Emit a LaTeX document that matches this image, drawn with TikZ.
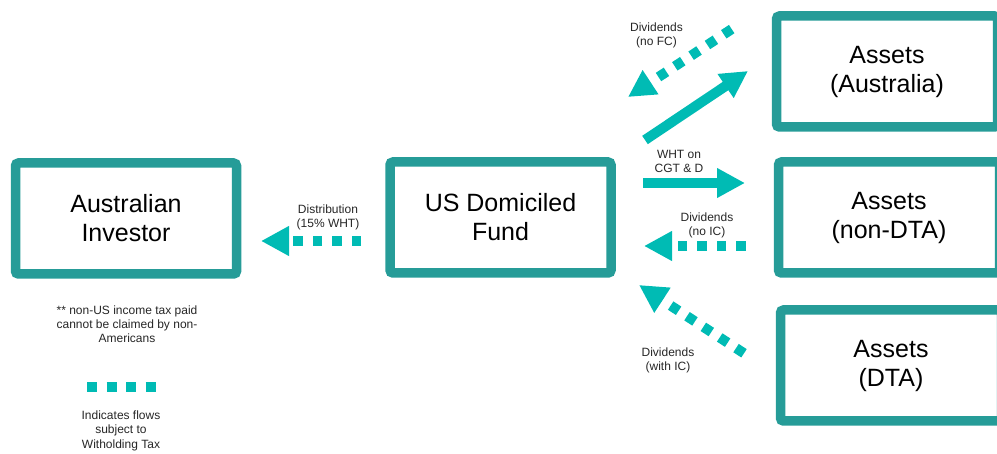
\documentclass[tikz,border=0pt]{standalone}
\usepackage{fontspec}
\setmainfont{Liberation Sans}
\usetikzlibrary{arrows.meta}

\definecolor{boxteal}{RGB}{38,156,152}
\definecolor{flowteal}{RGB}{0,187,180}

\tikzset{
  entity/.style={draw=boxteal, line width=9.5pt, rounded corners=3pt, fill=white,
    minimum width=221pt, minimum height=111pt, align=center,
    font=\fontsize{25}{29}\selectfont, text=black},
  flowlabel/.style={align=center, font=\fontsize{12}{14.5}\selectfont, text=black!85},
  flow/.style={draw=flowteal, line width=10pt,
    -{Triangle[length=28pt,width=28pt]}},
  whtflow/.style={flow, dash pattern=on 9.5pt off 10pt},
}

\begin{document}
\begin{tikzpicture}[x=1pt,y=-1pt]
  \useasboundingbox (0,0) rectangle (997,454);

  % entities
  \node[entity] (investor) at (126,218.5) {Australian\\Investor};
  \node[entity] (fund) at (500.5,217.5) {US Domiciled\\Fund};
  \node[entity] (aus) at (887,71.5) {Assets\\(Australia)};
  \node[entity] (nondta) at (889,217.5) {Assets\\(non-DTA)};
  \node[entity] (dta) at (891,365.5) {Assets\\(DTA)};

  % end points of the flows
  \coordinate (distS) at (361,241);
  \coordinate (distT) at (261,241);
  \coordinate (whtS) at (643,183);
  \coordinate (whtT) at (745,183);
  \coordinate (noicS) at (745.5,246);
  \coordinate (noicT) at (644,246);
  \coordinate (ausS) at (645,140);
  \coordinate (ausT) at (748,71);
  \coordinate (nofcS) at (731.7,29.1);
  \coordinate (nofcT) at (628,97);
  \coordinate (withicS) at (744,353.3);
  \coordinate (withicT) at (639,285);

  % flows
  \draw[whtflow] (distS) -- (distT);
  \draw[flow] (whtS) -- (whtT);
  \draw[whtflow] (noicS) -- (noicT);
  \draw[flow, -{Triangle[length=27pt,width=27pt]}] (ausS) -- (ausT);
  \draw[whtflow, -{Triangle[length=27pt,width=27pt]}] (nofcS) -- (nofcT);
  \draw[whtflow] (withicS) -- (withicT);

  % flow labels
  \node[flowlabel] (distL) at (328,217.5) {Distribution\\(15\% WHT)};
  \node[flowlabel] (whtL) at (679,161.5) {WHT on\\CGT \& D};
  \node[flowlabel] (noicL) at (707,225.5) {Dividends\\(no IC)};
  \node[flowlabel] (nofcL) at (656.5,35.5) {Dividends\\(no FC)};
  \node[flowlabel] (withicL) at (668,360.5) {Dividends\\(with IC)};

  % notes and legend
  \node[flowlabel, font=\fontsize{12}{14}\selectfont] (note) at (127,324)
    {** non-US income tax paid\\cannot be claimed by non-\\Americans};
  \coordinate (legS) at (87,387);
  \coordinate (legT) at (156,387);
  \draw[draw=flowteal, line width=10pt, dash pattern=on 10pt off 9.5pt] (legS) -- (legT);
  \node[flowlabel] (legL) at (121,430.5)
    {Indicates flows\\subject to\\Witholding Tax};
\end{tikzpicture}
\end{document}
